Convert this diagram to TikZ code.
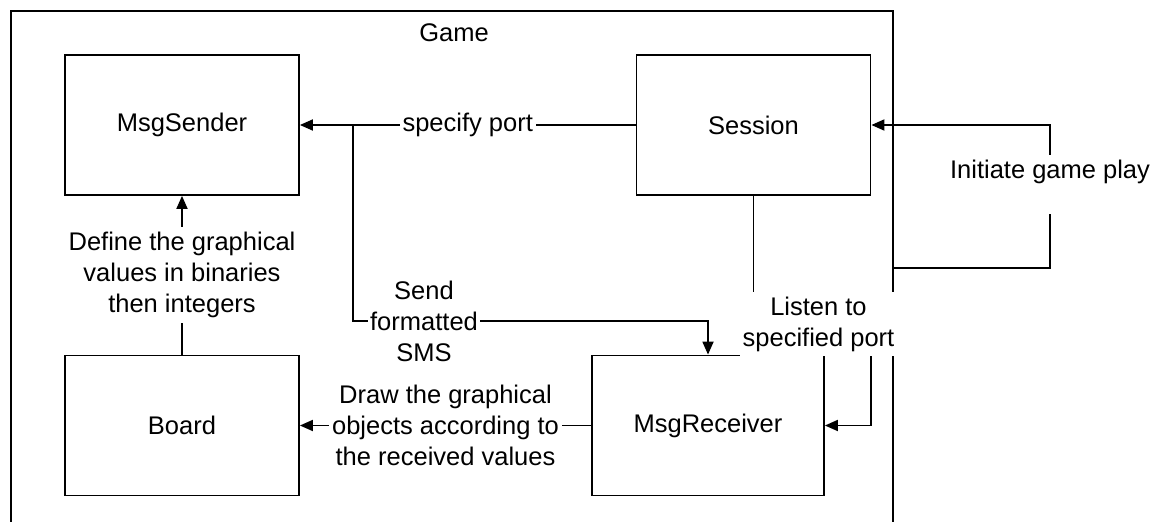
\documentclass[tikz,border=0pt]{standalone}
\usepackage{fontspec}
\setmainfont{Liberation Sans}
\usetikzlibrary{arrows.meta}
\begin{document}
\begin{tikzpicture}[x=1pt,y=-1pt,
  every node/.style={font=\fontsize{25.5}{31}\selectfont},
  box/.style={draw, line width=1.8pt, minimum width=234pt, minimum height=140pt, inner sep=0pt},
  conn/.style={line width=1.8pt},
  arr/.style={conn, -{Triangle[length=13pt,width=11pt]}},
  lab/.style={fill=white, align=center, inner xsep=3pt, inner ysep=5pt},
  frame/.style={line width=2.2pt}
]
\useasboundingbox (0,0) rectangle (1157,522);
\fill[white] (0,0) rectangle (1157,522);
% Game frame (open at the bottom)
\draw[frame] (11,522) -- (11,11) -- (893,11) -- (893,522);
\node (game) at (454,33) {Game};
% components
\node[box] (sender) at (182,125) {MsgSender};
\node[box] (session) at (753.5,125) {Session};
\node[box] (board) at (182,425.5) {Board};
\node[box, minimum width=232pt] (recv) at (708,425.5) {MsgReceiver};
% connectors
\draw[arr] (session.west) -- node[lab] (speclab) {specify port} (sender.east);
\coordinate (branch) at (353,125);
\draw[arr] (branch) -- (353,321) -| (recv.north);
\node[lab, inner xsep=2pt] (sendlab) at (424,321) {Send\\formatted\\SMS};
\draw[arr] (board.north) -- node[lab] (deflab) {Define the graphical\\values in binaries\\then integers} (sender.south);
\draw[arr] (recv.west) -- node[lab] (drawlab) {Draw the graphical\\objects according to\\the received values} (board.east);
\draw[arr] (session.south) |- (871,324) |- (recv.east);
\node[lab] (listen) at (818.5,324) {Listen to\\specified port};
\coordinate (gamein) at (893,268);
\draw[arr] (gamein) -| (1050,125) -- (session.east);
\node[lab] (init) at (1050,184.5) {Initiate game play\\\mbox{}};
\end{tikzpicture}
\end{document}
